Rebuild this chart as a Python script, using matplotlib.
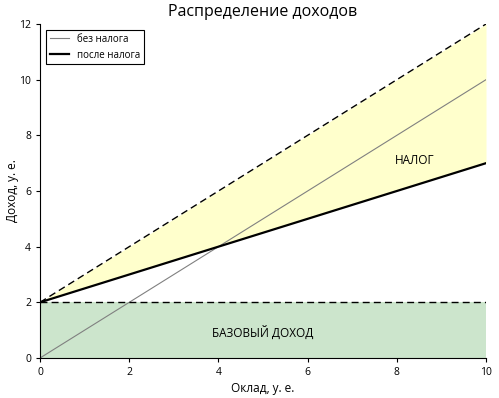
import numpy as np
import matplotlib.pyplot as plt

plt.rcParams['font.family'] = ['Open Sans', 'DejaVu Sans']

# salary axis and income curves
salary = [0, 10]
no_tax = [0, 10]
after_tax = [2, 7]
tax_top = [2, 12]
base_income = [2, 2]

fig = plt.figure(figsize=(4.99, 3.98), dpi=100)
ax = fig.add_axes([0.0802, 0.1005, 0.8938, 0.8392])

ax.fill_between(salary, after_tax, tax_top, color="#ffffcc", lw=0)
ax.fill_between(salary, [0, 0], base_income, color="#cce5cc", lw=0)
ax.plot(salary, no_tax, color="gray", lw=0.8, label="без налога")
ax.plot(salary, after_tax, color="black", lw=1.6, label="после налога")
ax.plot(salary, tax_top, color="black", ls=(0, (5, 3)), lw=1)
ax.plot(salary, base_income, color="black", ls=(0, (5, 3)), lw=1)

ax.text(8.4, 7.1, "НАЛОГ", ha="center", va="center", fontsize=8.5)
ax.text(5, 0.9, "БАЗОВЫЙ ДОХОД", ha="center", va="center", fontsize=8.5)

ax.set_xlim(0, 10)
ax.set_ylim(0, 12)
ax.set_xticks(range(0, 11, 2))
ax.set_yticks(range(0, 13, 2))
for s in ["top", "right"]:
    ax.spines[s].set_visible(False)
ax.tick_params(labelsize=7.5, length=3, direction="out", top=False, right=False)
ax.set_xlabel("Оклад, у. е.", fontsize=8.5, labelpad=3)
ax.set_ylabel("Доход, у. е.", fontsize=8.5)
ax.yaxis.set_label_coords(-0.048, 0.5)
ax.set_title("Распределение доходов", fontsize=11.5)
leg = ax.legend(loc="upper left", fontsize=7, fancybox=False, framealpha=1,
                edgecolor="black", borderaxespad=0.6)
leg.get_frame().set_linewidth(0.8)

fig.savefig("out.png", dpi=100)
